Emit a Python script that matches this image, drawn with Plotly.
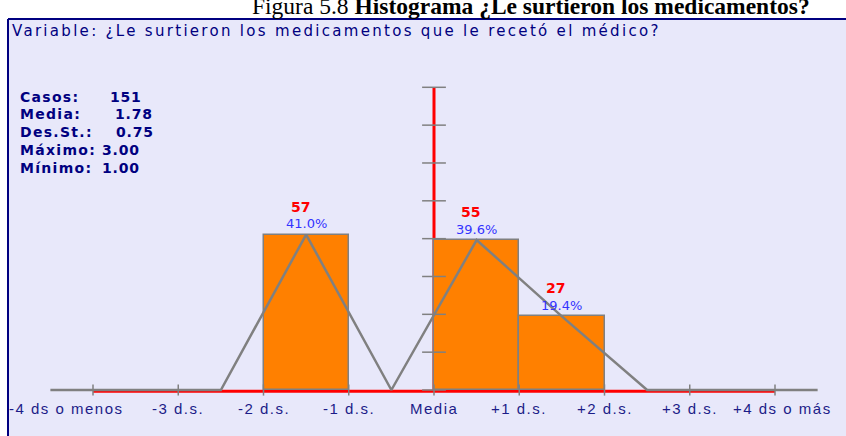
import plotly.graph_objects as go

# ---- data ----
tick_pos = [-4, -3, -2, -1, 0, 1, 2, 3, 4]
tick_labels = ["-4 ds o menos", "-3 d.s.", "-2 d.s.", "-1 d.s.", "Media",
               "+1 d.s.", "+2 d.s.", "+3 d.s.", "+4 ds o más"]
class_mid = [-4.5, -3.5, -2.5, -1.5, -0.5, 0.5, 1.5, 2.5, 3.5, 4.5]
class_count = [0, 0, 0, 57, 0, 55, 27, 0, 0, 0]
bar_mid = [-1.5, 0.5, 1.5]
bar_count = [57, 55, 27]
bar_pct = ["41.0%", "39.6%", "19.4%"]
stat_names = ["Casos:", "Media:", "Des.St.:", "Máximo:", "Mínimo:"]
stat_values = ["151", "1.78", "0.75", "3.00", "1.00"]
y_step = 13.875
y_ticks = [k * y_step for k in range(9)]

W, H = 846, 436
BASE = 390
px_per_sd = 85.25
px_per_count = 2.727
x0_px = 434

xr = [-x0_px / px_per_sd, (W - x0_px) / px_per_sd]
yr = [-(H - BASE) / px_per_count, BASE / px_per_count]

def py(p):  # pixel from top -> paper y
    return (H - p) / H

def pxp(p):
    return p / W

def spaced(t, s):
    return '<span style="letter-spacing:%spx">%s</span>' % (s, t)

NAVY = "#000080"
fig = go.Figure()

fig.add_trace(go.Bar(x=bar_mid, y=bar_count, width=1,
                     marker=dict(color="#FF8000", line=dict(color="#808080", width=1.5)),
                     hoverinfo="skip"))
fig.add_trace(go.Scatter(x=class_mid, y=class_count, mode="lines",
                         line=dict(color="#808080", width=2.5), hoverinfo="skip"))
fig.add_trace(go.Scatter(x=tick_pos, y=[0] * len(tick_pos), mode="markers",
                         marker=dict(symbol="line-ns", size=8,
                                     line=dict(color="#808080", width=1.5)),
                         hoverinfo="skip"))
fig.add_trace(go.Scatter(x=[0] * len(y_ticks), y=y_ticks, mode="markers",
                         marker=dict(symbol="line-ew", size=17,
                                     line=dict(color="#808080", width=1.5)),
                         hoverinfo="skip"))

TOP = 19
shapes = [
    dict(type="rect", xref="paper", yref="paper", x0=pxp(8), x1=1.0,
         y0=0, y1=py(TOP), fillcolor="#E8E8FA", line=dict(width=0), layer="below"),
    dict(type="line", xref="paper", yref="paper", x0=pxp(8), x1=1.0,
         y0=py(TOP), y1=py(TOP), line=dict(color=NAVY, width=2), layer="below"),
    dict(type="line", xref="paper", yref="paper", x0=pxp(8), x1=pxp(8),
         y0=py(TOP), y1=0, line=dict(color=NAVY, width=2), layer="below"),
    dict(type="line", xref="x", yref="y", x0=tick_pos[0], x1=tick_pos[-1],
         y0=-0.5, y1=-0.5, line=dict(color="#FF0000", width=3), layer="below"),
    dict(type="line", xref="x", yref="y", x0=0, x1=0,
         y0=0, y1=y_ticks[-1], line=dict(color="#FF0000", width=3), layer="below"),
]

ann = []
ann.append(dict(xref="paper", yref="paper", x=pxp(531), y=py(21), xanchor="center",
                yanchor="bottom", showarrow=False,
                text="Figura 5.8 <b>Histograma ¿Le surtieron los medicamentos?</b>",
                font=dict(family="Liberation Serif", size=23.5, color="#000000")))
ann.append(dict(xref="paper", yref="paper", x=pxp(10), y=py(31), xanchor="left",
                yanchor="middle", showarrow=False,
                text=spaced("Variable: ¿Le surtieron los medicamentos que le recetó el médico?", 2.3),
                font=dict(family="DejaVu Sans", size=15, color=NAVY)))
stat_y = [97, 114, 132, 150, 168]
stat_x = [108, 113, 114, 100, 100]
for i, (n, v) in enumerate(zip(stat_names, stat_values)):
    ann.append(dict(xref="paper", yref="paper", x=pxp(18), y=py(stat_y[i]), xanchor="left",
                    yanchor="middle", showarrow=False, text="<b>" + spaced(n, 1.3) + "</b>",
                    font=dict(family="DejaVu Sans", size=14, color=NAVY)))
    ann.append(dict(xref="paper", yref="paper", x=pxp(stat_x[i]), y=py(stat_y[i]), xanchor="left",
                    yanchor="middle", showarrow=False, text="<b>" + spaced(v, 0.8) + "</b>",
                    font=dict(family="DejaVu Sans", size=14, color=NAVY)))
for i, (t, lab) in enumerate(zip(tick_pos, tick_labels)):
    sh = -27 if i == 0 else (7 if i == len(tick_pos) - 1 else 0)
    ann.append(dict(xref="x", yref="y", x=t, y=0, yshift=-18, xshift=sh,
                    xanchor="center", yanchor="middle", showarrow=False,
                    text=spaced(lab, 1.5),
                    font=dict(family="Liberation Sans", size=15, color="#1C1C88")))
for m, c, p in zip(bar_mid, bar_count, bar_pct):
    ann.append(dict(xref="x", yref="y", x=m, y=c, yshift=28, xshift=-6,
                    xanchor="center", yanchor="middle", showarrow=False, text="<b>%d</b>" % c,
                    font=dict(family="DejaVu Sans", size=14, color="#FF0000")))
    ann.append(dict(xref="x", yref="y", x=m, y=c, yshift=11,
                    xanchor="center", yanchor="middle", showarrow=False, text=p,
                    font=dict(family="DejaVu Sans", size=13, color="#3333FF")))

fig.update_layout(
    width=W, height=H, autosize=False,
    margin=dict(l=0, r=0, t=0, b=0, pad=0),
    paper_bgcolor="#FFFFFF", plot_bgcolor="rgba(0,0,0,0)",
    showlegend=False, bargap=0,
    xaxis=dict(range=xr, visible=False, fixedrange=True),
    yaxis=dict(range=yr, visible=False, fixedrange=True),
    shapes=shapes, annotations=ann,
)
fig.write_html("out.html", config={"displayModeBar": False},
               post_script="document.body.style.margin='0';document.body.style.overflow='hidden';")
